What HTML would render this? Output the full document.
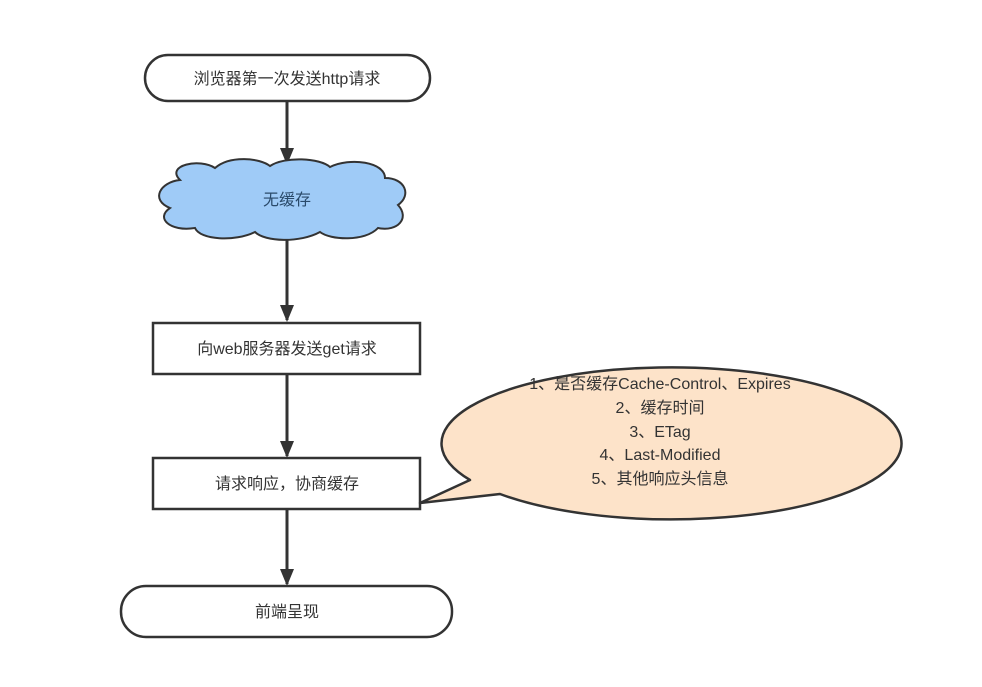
<!DOCTYPE html>
<html><head><meta charset="utf-8"><style>
html,body{margin:0;padding:0;background:#fff;}
svg{display:block;}
text{font-family:"Liberation Sans","Noto Sans CJK SC",sans-serif;fill:#333;}
</style></head><body>
<svg width="982" height="687" viewBox="0 0 982 687" xmlns="http://www.w3.org/2000/svg">
<defs>
<marker id="a" markerWidth="14" markerHeight="16" refX="7" refY="15" orient="auto-start-reverse" markerUnits="userSpaceOnUse">
<path d="M0,0 L14,0 L7,16 z" fill="#333"/>
</marker>
</defs>
<g stroke="#333" stroke-width="3" fill="none">
<line x1="287" y1="101" x2="287" y2="164"/>
<path d="M280,148 L294,148 L287,165 z" fill="#333" stroke="none"/>
<line x1="287" y1="236" x2="287" y2="320"/>
<path d="M280,305 L294,305 L287,322 z" fill="#333" stroke="none"/>
<line x1="287" y1="374" x2="287" y2="456"/>
<path d="M280,441 L294,441 L287,458 z" fill="#333" stroke="none"/>
<line x1="287" y1="509" x2="287" y2="584"/>
<path d="M280,569 L294,569 L287,586 z" fill="#333" stroke="none"/>
</g>
<rect x="145" y="55" width="285" height="46" rx="23" fill="#fff" stroke="#333" stroke-width="2.5"/>
<text x="287" y="84" font-size="16" text-anchor="middle">浏览器第一次发送http请求</text>
<path d="M180,180 C165,165 200,158 215,168 C230,155 260,158 270,166 C285,156 320,158 330,167 C350,157 385,162 385,178 C405,178 412,195 398,205 C410,218 398,232 378,228 C365,242 330,240 320,232 C300,243 265,242 255,232 C235,242 200,240 195,228 C170,232 155,218 170,208 C150,200 160,182 180,180 z" fill="#9fcbf7" stroke="#333" stroke-width="2"/>
<text x="287" y="205" font-size="16" text-anchor="middle" style="fill:#2a4a6a">无缓存</text>
<rect x="153" y="323" width="267" height="51" fill="#fff" stroke="#333" stroke-width="2.5"/>
<text x="287" y="354" font-size="16" text-anchor="middle">向web服务器发送get请求</text>
<rect x="153" y="458" width="267" height="51" fill="#fff" stroke="#333" stroke-width="2.5"/>
<text x="287" y="489" font-size="16" text-anchor="middle">请求响应，协商缓存</text>
<rect x="121" y="586" width="331" height="51" rx="25" fill="#fff" stroke="#333" stroke-width="2.5"/>
<text x="287" y="617" font-size="16" text-anchor="middle">前端呈现</text>
<path d="M470,480 A230,76 0 1 1 500,494 L420,503 z" fill="#fde3c9" stroke="#333" stroke-width="2.5" stroke-linejoin="round"/>
<g font-size="16" text-anchor="middle">
<text x="660" y="389">1、是否缓存Cache-Control、Expires</text>
<text x="660" y="413">2、缓存时间</text>
<text x="660" y="437">3、ETag</text>
<text x="660" y="460">4、Last-Modified</text>
<text x="660" y="484">5、其他响应头信息</text>
</g>
</svg>
</body></html>
